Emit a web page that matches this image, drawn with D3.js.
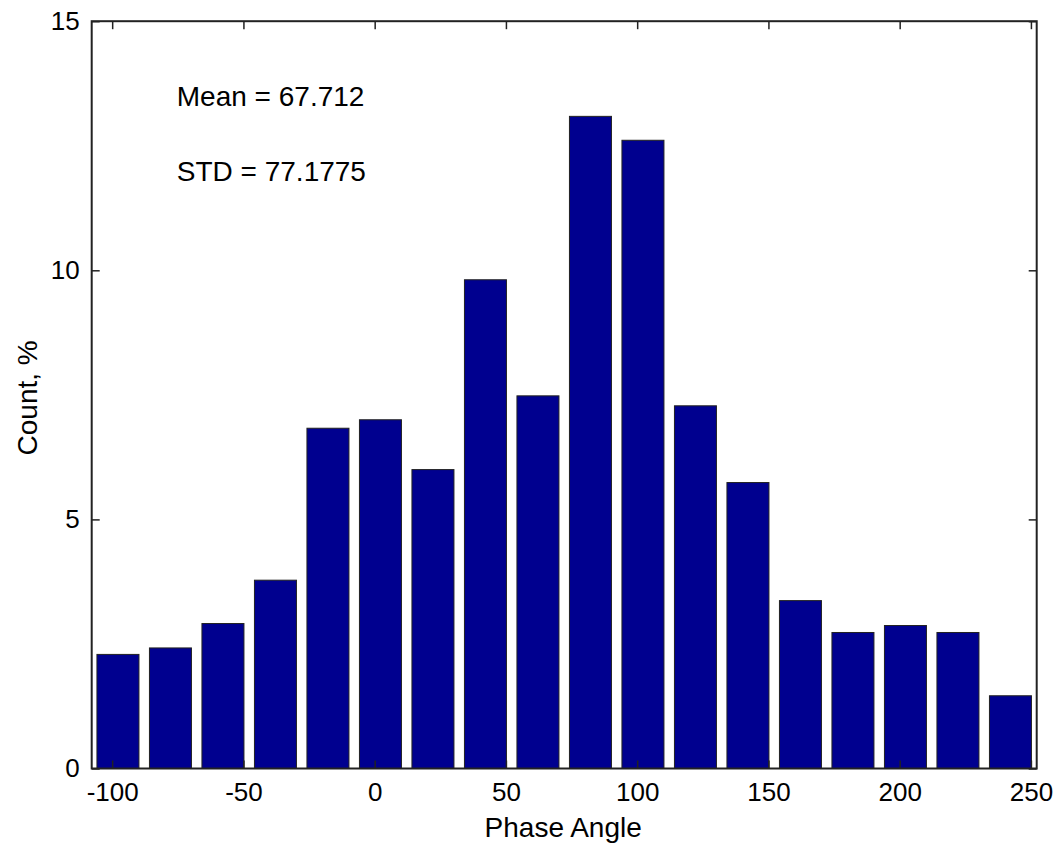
<!DOCTYPE html>
<html>
<head>
<meta charset="utf-8">
<script src="https://cdn.jsdelivr.net/npm/d3@7"></script>
<style>
  html, body { margin: 0; padding: 0; background: #fff; }
  text { font-family: "Liberation Sans", Arial, Helvetica, sans-serif; fill: #000; }
</style>
</head>
<body>
<svg id="chart" width="1062" height="844"></svg>
<script>
// Histogram bin centers (Phase Angle, degrees) and percentages
const binCenters = [-97.8, -77.8, -57.8, -37.8, -17.8, 2.2, 22.2, 42.2, 62.2, 82.2, 102.2, 122.2, 142.2, 162.2, 182.2, 202.2, 222.2, 242.2];
const countPct   = [2.29, 2.42, 2.91, 3.78, 6.83, 7.00, 6.00, 9.81, 7.48, 13.09, 12.61, 7.28, 5.74, 3.37, 2.73, 2.87, 2.73, 1.46];
const xTicks = [-100, -50, 0, 50, 100, 150, 200, 250];
const yTicks = [0, 5, 10, 15];
const xDomain = [-107.8, 252.2];
const yDomain = [0, 15];
const binWidth = 20;
const annotations = [
  { x: -75, y: 13.5, text: "Mean = 67.712" },
  { x: -75, y: 12.0, text: "STD = 77.1775" }
];
const xLabel = "Phase Angle";
const yLabel = "Count, %";

const svg = d3.select("#chart");
const L = 91.7, R = 1036.7, T = 21.2, B = 768.5;

const x = d3.scaleLinear().domain(xDomain).range([L, R]);
const y = d3.scaleLinear().domain(yDomain).range([B, T]);

// bars
const barFrac = 0.8;
svg.append("g").selectAll("rect")
  .data(binCenters.map((c, i) => ({ c, v: countPct[i] })))
  .join("rect")
  .attr("x", d => x(d.c - binWidth * barFrac / 2))
  .attr("width", d => x(d.c + binWidth * barFrac / 2) - x(d.c - binWidth * barFrac / 2))
  .attr("y", d => y(d.v))
  .attr("height", d => y(0) - y(d.v))
  .attr("fill", "#00008f")
  .attr("stroke", "#222")
  .attr("stroke-width", 1);

const tickLen = 8;
const fontTick = 26;
const fmt = d => String(d);

// bottom axis
const gB = svg.append("g").attr("transform", `translate(0,${B})`)
  .call(d3.axisBottom(x).tickValues(xTicks).tickSize(-tickLen).tickPadding(14).tickFormat(fmt));
// top axis (ticks only)
const gT = svg.append("g").attr("transform", `translate(0,${T})`)
  .call(d3.axisTop(x).tickValues(xTicks).tickSize(-tickLen).tickFormat(""));
// left axis
const gL = svg.append("g").attr("transform", `translate(${L},0)`)
  .call(d3.axisLeft(y).tickValues(yTicks).tickSize(-tickLen).tickPadding(12).tickFormat(fmt));
// right axis (ticks only)
const gR = svg.append("g").attr("transform", `translate(${R},0)`)
  .call(d3.axisRight(y).tickValues(yTicks).tickSize(-tickLen).tickFormat(""));

[gB, gT, gL, gR].forEach(g => {
  g.select(".domain").remove();
  g.selectAll(".tick line").attr("stroke", "#222").attr("stroke-width", 1.5);
  g.selectAll(".tick text").style("font-size", fontTick + "px").attr("fill", "#000");
});
gB.selectAll(".tick text").attr("dy", "0.71em");

// box
svg.append("rect")
  .attr("x", L).attr("y", T)
  .attr("width", R - L).attr("height", B - T)
  .attr("fill", "none").attr("stroke", "#222").attr("stroke-width", 2);

// annotations
const fontLbl = 28;
svg.append("g").selectAll("text")
  .data(annotations)
  .join("text")
  .attr("x", d => x(d.x) - 1)
  .attr("y", d => y(d.y) + fontLbl * 0.358)
  .style("font-size", fontLbl + "px")
  .text(d => d.text);

// axis labels
svg.append("text")
  .attr("x", (L + R) / 2 - 1).attr("y", 836.5)
  .attr("text-anchor", "middle")
  .style("font-size", fontLbl + "px")
  .text(xLabel);

svg.append("text")
  .attr("transform", `translate(36.5,${(T + B) / 2 + 3}) rotate(-90)`)
  .attr("text-anchor", "middle")
  .style("font-size", fontLbl + "px")
  .text(yLabel);
</script>
</body>
</html>
